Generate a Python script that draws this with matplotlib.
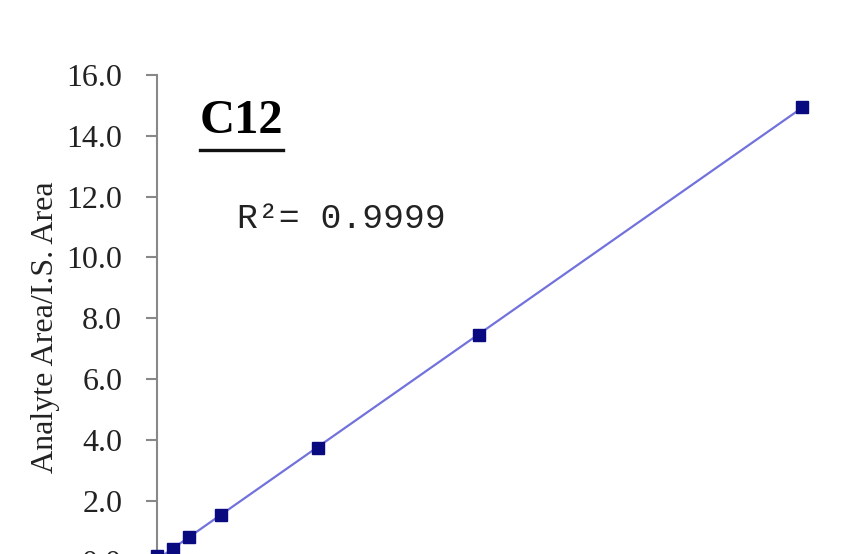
import numpy as np
import matplotlib
matplotlib.use("Agg")
import matplotlib.pyplot as plt
from matplotlib.lines import Line2D

plt.rcParams['font.family'] = ['Liberation Serif', 'DejaVu Serif']

# calibration points, C12
conc = [0, 5, 10, 20, 50, 100, 200]
ratio = [0.18, 0.40, 0.80, 1.52, 3.73, 7.45, 14.95]
yticks = [0, 2, 4, 6, 8, 10, 12, 14, 16]
r2_label = "R²= 0.9999"

fig = plt.figure(figsize=(8.43, 5.54), dpi=100)
ax = fig.add_axes([0.1862, -0.0135, 0.803, 0.878])

slope, icpt = np.polyfit(conc, ratio, 1)
xfit = np.array([min(conc), max(conc)])
ax.plot(xfit, slope * xfit + icpt, color='#7272dc', lw=1.6, zorder=2, clip_on=False)
ax.plot(conc, ratio, 's', color='#0a0a80', ms=9, mec='#0a0a80', zorder=3, clip_on=False)

ax.set_xlim(0, 210)
ax.set_ylim(0, 16)
ax.set_yticks(yticks)
ax.set_yticklabels(["%.1f" % v for v in yticks], fontsize=23, color='#222222')
ax.set_xticks([])
for s in ['top', 'right', 'bottom']:
    ax.spines[s].set_visible(False)
ax.spines['left'].set_color('#888888')
ax.spines['left'].set_linewidth(1.5)
ax.tick_params(axis='y', direction='out', length=8, width=1.5, color='#888888', pad=17)
ax.set_ylabel("Analyte Area/I.S. Area", fontsize=23, color='#222222')
ax.yaxis.set_label_coords(-0.143, 0.482)

title = ax.text(13.3, 14.1, "C12", fontsize=35, fontweight='bold', va='baseline', ha='left')
ax.text(24.8, 10.97, r2_label, fontsize=25, va='baseline', ha='left',
        family=['Liberation Mono', 'DejaVu Sans Mono'], color='#222222')

# underline under the title text, ~17 px below its baseline
fig.canvas.draw()
bb = title.get_window_extent()
base_px = ax.transData.transform((13.3, 14.1))[1]
uy = (base_px - 17) / fig.bbox.height
fig.add_artist(Line2D([bb.x0 / fig.bbox.width, bb.x1 / fig.bbox.width], [uy, uy],
                      color='#111111', lw=2.4))

fig.savefig("out.png", dpi=100)
